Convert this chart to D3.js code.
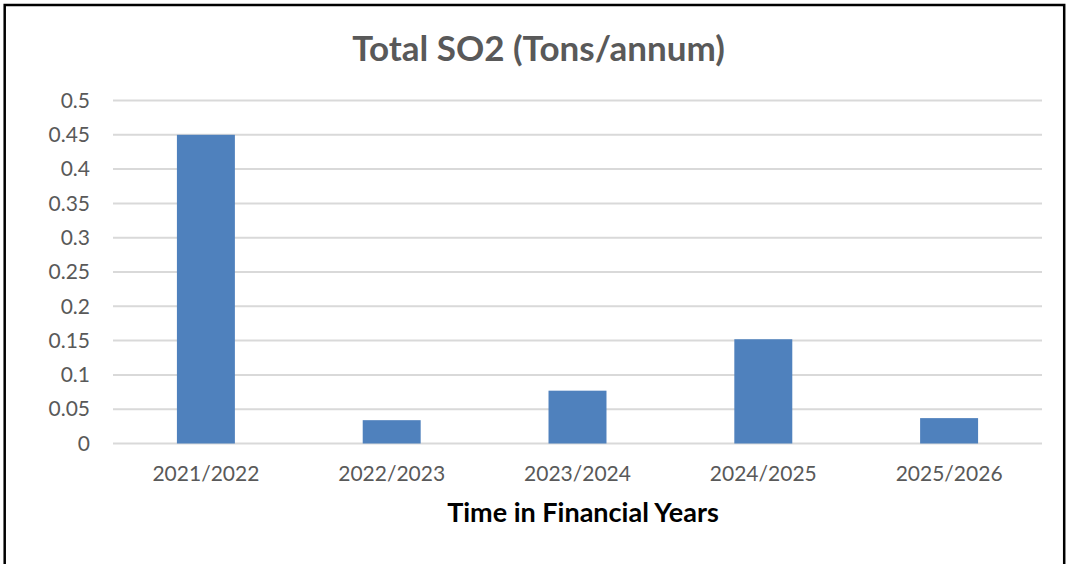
<!DOCTYPE html>
<html>
<head>
<meta charset="utf-8">
<script src="https://cdn.jsdelivr.net/npm/d3@7"></script>
<style>
  html, body { margin: 0; padding: 0; background: #fff; }
  svg { display: block; }
</style>
</head>
<body>
<div id="graphic-wrapper"></div>
<script>
// data
const years = ["2021/2022", "2022/2023", "2023/2024", "2024/2025", "2025/2026"]
const so2Tons = [0.45, 0.034, 0.077, 0.152, 0.037]
const yTicks = [0, 0.05, 0.1, 0.15, 0.2, 0.25, 0.3, 0.35, 0.4, 0.45, 0.5]

const chartTitle = "Total SO2 (Tons/annum)"
const xTitle = "Time in Financial Years"

const WIDTH = 1066
const HEIGHT = 564
const FONT = "Lato, 'Open Sans', sans-serif"
const TEXT_GREY = "#595959"

const plot = { left: 113, right: 1042, top: 100.5, bottom: 443.5 }

const svg = d3.select("#graphic-wrapper")
  .append("svg")
    .attr("width", WIDTH)
    .attr("height", HEIGHT)

// outer frame (bottom edge falls outside the picture)
svg.append("rect")
  .attr("x", 4.7)
  .attr("y", 5)
  .attr("width", 1059.5)
  .attr("height", HEIGHT + 10)
  .attr("fill", "#fff")
  .attr("stroke", "#000")
  .attr("stroke-width", 2.5)

const xScale = d3.scaleBand()
  .domain(years)
  .range([plot.left, plot.right])
  .paddingInner(0.688)
  .paddingOuter(0.344)

const yScale = d3.scaleLinear()
  .domain([0, 0.5])
  .range([plot.bottom, plot.top])

// gridlines
svg.append("g")
  .selectAll("line")
  .data(yTicks)
  .join("line")
    .attr("x1", plot.left)
    .attr("x2", plot.right)
    .attr("y1", d => yScale(d))
    .attr("y2", d => yScale(d))
    .attr("stroke", "#d9d9d9")
    .attr("stroke-width", 2)

// y axis labels
const yAxis = svg.append("g")
  .attr("transform", `translate(${plot.left}, 0)`)
  .call(d3.axisLeft(yScale).tickValues(yTicks).tickSize(0).tickPadding(23).tickFormat(d => String(+d.toFixed(2))))
yAxis.select(".domain").remove()
yAxis.selectAll("text")
  .attr("fill", TEXT_GREY)
  .attr("font-family", FONT)
  .attr("font-size", 21)

// bars
svg.append("g")
  .selectAll("rect")
  .data(so2Tons)
  .join("rect")
    .attr("x", (d, i) => xScale(years[i]))
    .attr("y", d => yScale(d))
    .attr("width", xScale.bandwidth())
    .attr("height", d => yScale(0) - yScale(d))
    .attr("fill", "#4f81bd")

// x axis labels
const xAxis = svg.append("g")
  .attr("transform", `translate(0, ${plot.bottom})`)
  .call(d3.axisBottom(xScale).tickSize(0).tickPadding(23))
xAxis.select(".domain").remove()
xAxis.selectAll("text")
  .attr("fill", TEXT_GREY)
  .attr("font-family", FONT)
  .attr("font-size", 21)

// titles
svg.append("text")
  .attr("x", 538.5)
  .attr("y", 61)
  .attr("text-anchor", "middle")
  .attr("font-family", FONT)
  .attr("font-weight", "bold")
  .attr("font-size", 35)
  .attr("fill", TEXT_GREY)
  .text(chartTitle)

svg.append("text")
  .attr("x", 583)
  .attr("y", 522)
  .attr("text-anchor", "middle")
  .attr("font-family", FONT)
  .attr("font-weight", "bold")
  .attr("font-size", 27)
  .attr("fill", "#000")
  .text(xTitle)
</script>
</body>
</html>
